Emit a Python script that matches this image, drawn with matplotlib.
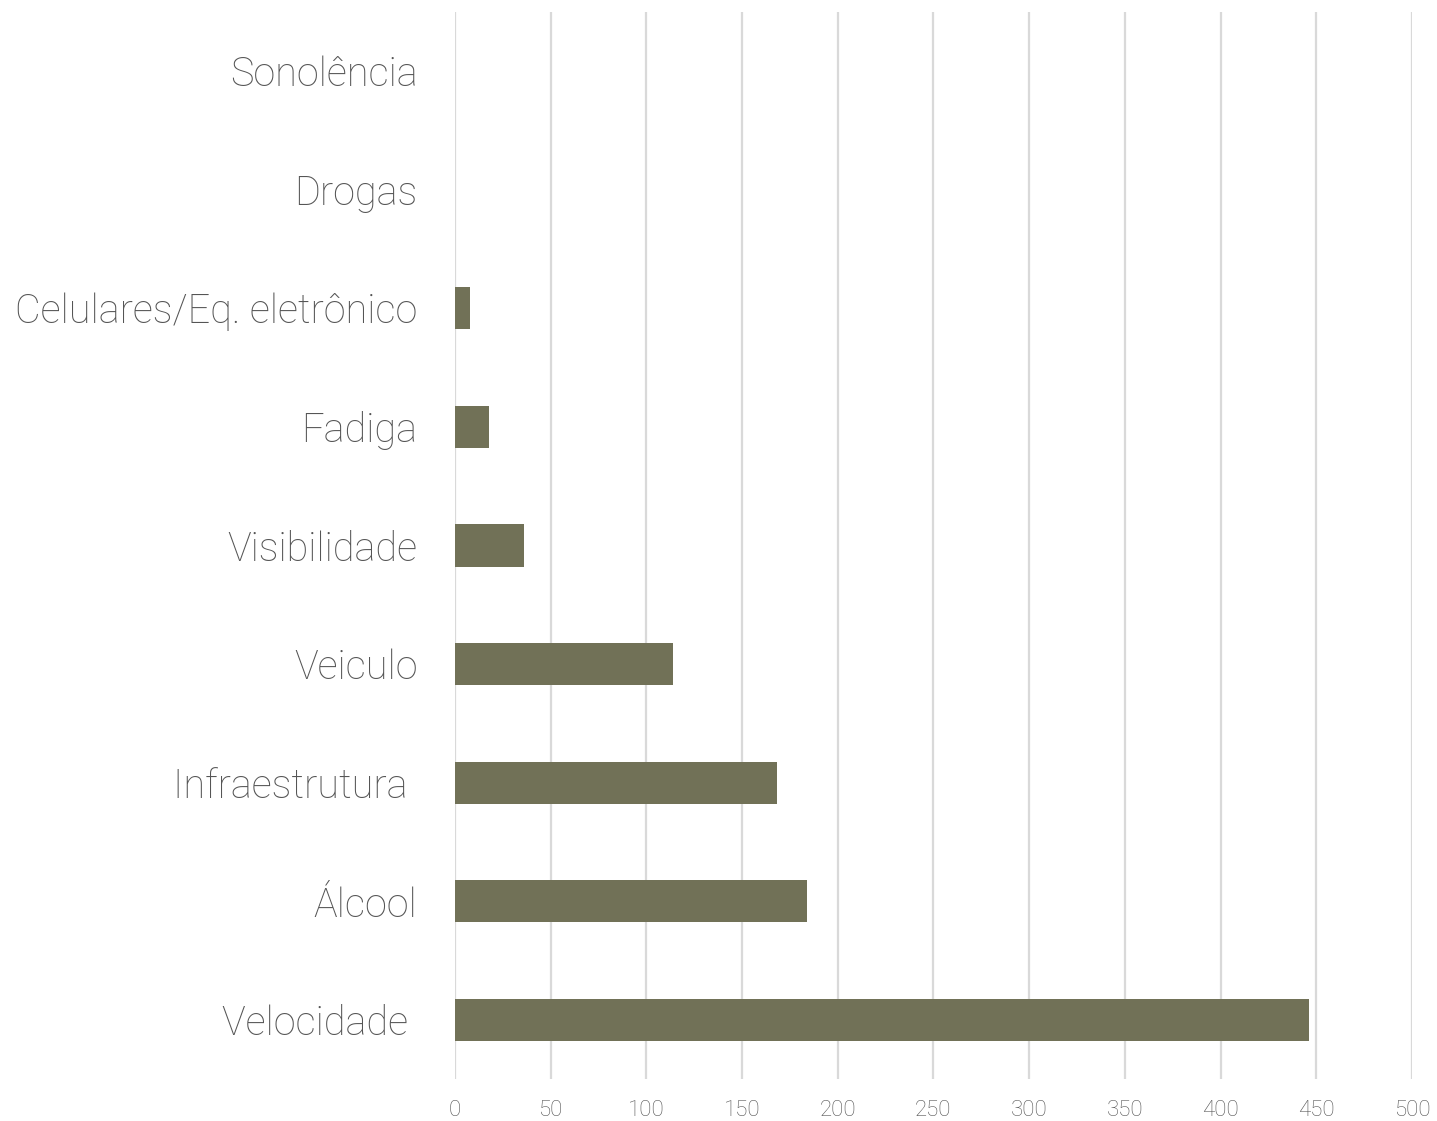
import matplotlib.pyplot as plt
import numpy as np

categories = ["Velocidade ", "Álcool", "Infraestrutura ", "Veiculo", "Visibilidade",
              "Fadiga", "Celulares/Eq. eletrônico", "Drogas", "Sonolência"]
values = [446, 184, 168, 114, 36, 18, 8, 0, 0]
xticks = [0, 50, 100, 150, 200, 250, 300, 350, 400, 450, 500]

plt.rcParams['font.family'] = ['Roboto', 'DejaVu Sans']

fig = plt.figure(figsize=(14.37, 11.21), dpi=100)
ax = fig.add_axes([0.3166, 0.0372, 0.666, 0.9524])

y = np.arange(len(categories))
ax.barh(y, values, height=0.355, color="#717157", zorder=3)

ax.set_xlim(0, 500)
ax.set_ylim(-0.5, len(categories) - 0.5)
ax.set_xticks(xticks)
ax.set_xticklabels([str(t) for t in xticks], fontsize=16, color="#555555",
                   fontweight="light")
ax.set_yticks(y)
ax.set_yticklabels(categories, fontsize=28.5, color="#555555", fontweight="light")
ax.tick_params(axis="both", length=0)
ax.tick_params(axis="y", pad=27)
ax.tick_params(axis="x", pad=15)

ax.grid(axis="x", color="#d9d9d9", linewidth=1.6, zorder=0)
for s in ax.spines.values():
    s.set_visible(False)

fig.savefig("out.png", dpi=100)
